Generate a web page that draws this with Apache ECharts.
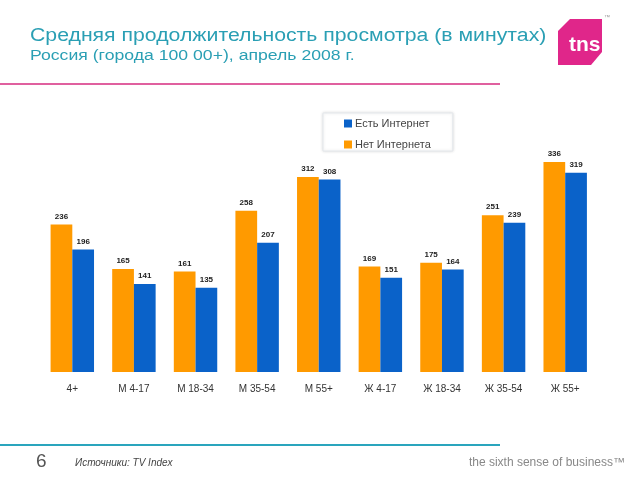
<!DOCTYPE html>
<html>
<head>
<meta charset="utf-8">
<script src="https://cdn.jsdelivr.net/npm/echarts@6/dist/echarts.min.js"></script>
<style>
html,body{margin:0;padding:0;background:#fff;}
#c{width:640px;height:480px;}
</style>
</head>
<body>
<div id="c"></div>
<script>
var categories = ['4+', 'М 4-17', 'М 18-34', 'М 35-54', 'М 55+', 'Ж 4-17', 'Ж 18-34', 'Ж 35-54', 'Ж 55+'];
var noInternet = [236, 165, 161, 258, 312, 169, 175, 251, 336];
var withInternet = [196, 141, 135, 207, 308, 151, 164, 239, 319];
var seriesNames = ['Нет Интернета', 'Есть Интернет'];
var titleText = 'Средняя продолжительность просмотра (в минутах)';
var subtitleText = 'Россия (города 100 00+), апрель 2008 г.';

var chart = echarts.init(document.getElementById('c'), null, {renderer: 'canvas'});
var labelStyle = {show: true, position: 'top', fontSize: 8, color: '#222', fontFamily: 'Liberation Sans, Arial', fontWeight: 'bold', distance: 4};
chart.setOption({
  backgroundColor: '#ffffff',
  animation: false,
  legend: {
    data: [seriesNames[1], seriesNames[0]],
    orient: 'vertical', left: 323, top: 113,
    itemWidth: 8, itemHeight: 8, itemGap: 10,
    padding: [5, 22, 1, 21],
    backgroundColor: '#ffffff', borderColor: '#e4e8ec', borderWidth: 1,
    shadowColor: 'rgba(0,0,0,0.12)', shadowBlur: 3,
    icon: 'rect',
    textStyle: {fontSize: 11, color: '#444', fontFamily: 'Liberation Sans, Arial', padding: [0, 0, 0, -2]}
  },
  grid: {left: 41.5, right: 44, top: 122, height: 250, containLabel: false},
  xAxis: {
    type: 'category', data: categories,
    axisLine: {show: false}, axisTick: {show: false},
    axisLabel: {fontSize: 10, color: '#333', margin: 12, fontFamily: 'Liberation Sans, Arial'}
  },
  yAxis: {type: 'value', min: 0, max: 400, show: false, splitLine: {show: false}},
  series: [
    {name: seriesNames[0], type: 'bar', data: noInternet, barGap: '0%', barCategoryGap: '29.5%',
     itemStyle: {color: '#FF9A00'}, label: labelStyle},
    {name: seriesNames[1], type: 'bar', data: withInternet,
     itemStyle: {color: '#0A62C9'}, label: labelStyle}
  ],
  graphic: [
    {type: 'text', x: 30, y: 36, scaleX: 1.18, style: {text: titleText, fill: '#2a9fb4', font: '18px Liberation Sans, Arial', verticalAlign: 'middle', align: 'left'}},
    {type: 'text', x: 30, y: 56.5, scaleX: 1.26, style: {text: subtitleText, fill: '#2a9fb4', font: '14px Liberation Sans, Arial', verticalAlign: 'middle', align: 'left'}},
    {type: 'rect', shape: {x: 0, y: 83, width: 500, height: 2}, style: {fill: '#e0609f'}},
    {type: 'rect', shape: {x: 0, y: 444, width: 500, height: 2}, style: {fill: '#2aa5bd'}},
    {type: 'polygon', shape: {points: [[570, 19], [602, 19], [602, 52], [591, 65], [558, 65], [558, 31]]}, style: {fill: '#E0268A'}},
    {type: 'text', x: 569, y: 45, style: {text: 'tns', fill: '#fff', font: 'bold 21px Liberation Sans, Arial', verticalAlign: 'middle'}},
    {type: 'text', x: 604, y: 14, style: {text: '™', fill: '#999', font: '6px Liberation Sans'}},
    {type: 'text', x: 36, y: 452, style: {text: '6', fill: '#555', font: '19px Liberation Sans, Arial'}},
    {type: 'text', x: 75, y: 458, style: {text: 'Источники: TV Index', fill: '#444', font: 'italic 10px Liberation Sans, Arial'}},
    {type: 'text', right: 15, top: 457, style: {text: 'the sixth sense of business™', fill: '#888', font: '12px Liberation Sans, Arial'}}
  ]
});
</script>
</body>
</html>
